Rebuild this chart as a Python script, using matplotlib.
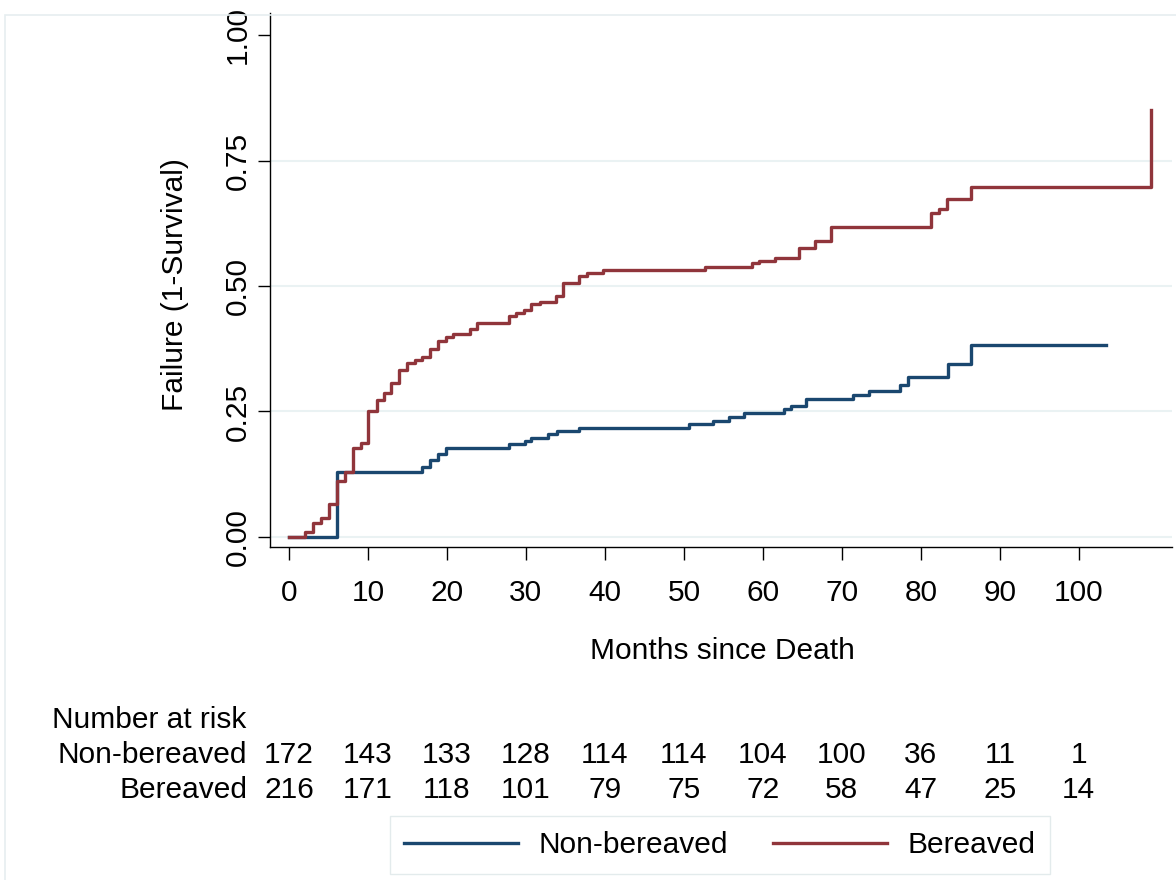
import matplotlib
matplotlib.use("Agg")
import matplotlib.pyplot as plt
import matplotlib.transforms as mtransforms
from matplotlib.lines import Line2D
from matplotlib.patches import Rectangle

# Kaplan-Meier failure curves (months since death, cumulative failure)
bereaved_t = [0, 2.0, 3.1, 4.1, 5.1, 6.1, 7.1, 8.1, 9.1, 10.0, 11.1, 12.0, 12.9, 13.9,
              15.0, 15.9, 16.9, 17.9, 18.9, 19.9, 20.8, 22.9, 23.8, 27.8, 28.7, 29.8,
              30.7, 31.8, 33.8, 34.7, 36.7, 37.7, 39.8, 52.7, 58.6, 59.5, 61.5, 64.6,
              66.6, 68.6, 81.3, 82.3, 83.3, 86.4, 109.2]
bereaved_f = [0, 0.010, 0.028, 0.037, 0.066, 0.112, 0.129, 0.177, 0.187, 0.250, 0.273,
              0.287, 0.307, 0.333, 0.347, 0.353, 0.358, 0.374, 0.391, 0.399, 0.404,
              0.414, 0.426, 0.441, 0.446, 0.452, 0.464, 0.469, 0.481, 0.507, 0.519,
              0.526, 0.532, 0.537, 0.545, 0.550, 0.556, 0.576, 0.590, 0.617, 0.645,
              0.653, 0.673, 0.697, 0.851]

nonbereaved_t = [0, 6.1, 16.9, 17.9, 18.9, 19.9, 27.8, 29.9, 30.7, 32.8, 33.9, 36.7,
                 50.7, 53.7, 55.7, 57.6, 62.7, 63.5, 65.5, 71.4, 73.4, 77.4, 78.4,
                 83.4, 86.4, 103.5]
nonbereaved_f = [0, 0.129, 0.140, 0.153, 0.165, 0.178, 0.185, 0.191, 0.198, 0.205,
                 0.211, 0.217, 0.225, 0.232, 0.239, 0.247, 0.254, 0.261, 0.274, 0.282,
                 0.290, 0.303, 0.318, 0.345, 0.382, 0.382]

# Number at risk table
risk_times = [0, 10, 20, 30, 40, 50, 60, 70, 80, 90, 100]
risk_nonbereaved = [172, 143, 133, 128, 114, 114, 104, 100, 36, 11, 1]
risk_bereaved = [216, 171, 118, 101, 79, 75, 72, 58, 47, 25, 14]

x_ticks = [0, 10, 20, 30, 40, 50, 60, 70, 80, 90, 100]
y_ticks = [0.0, 0.25, 0.50, 0.75, 1.00]
y_ticklabels = ["0.00", "0.25", "0.50", "0.75", "1.00"]

BLUE = "#1a476f"
RED = "#90353b"
GRID = "#eaf2f3"
W, H = 1176, 880
FS = 21.5

plt.rcParams['font.family'] = ['Liberation Sans', 'DejaVu Sans']

fig = plt.figure(figsize=(W / 100, H / 100), dpi=100)

# light outer frame (Stata graph region)
fig.patches.append(Rectangle((5 / W, -0.05), 1.2, 1.05 - 15 / H, transform=fig.transFigure,
                             fill=False, edgecolor="#e6eef0", linewidth=1.2))

ax = fig.add_axes([270 / W, 1 - 547 / H, (1172 - 270) / W, (547 - 13) / H])
ax.set_xlim(-2.4, 111.8)
ax.set_ylim(-0.02, 1.044)

for y in [0.0, 0.25, 0.50, 0.75]:
    ax.axhline(y, color=GRID, linewidth=1.5, zorder=0)

ax.step(nonbereaved_t, nonbereaved_f, where='post', color=BLUE, linewidth=2.4, zorder=3)
ax.step(bereaved_t, bereaved_f, where='post', color=RED, linewidth=2.4, zorder=4)

for s in ['top', 'right']:
    ax.spines[s].set_visible(False)
for s in ['left', 'bottom']:
    ax.spines[s].set_linewidth(1.0)

ax.set_xticks(x_ticks)
ax.set_xticklabels([str(t) for t in x_ticks])
ax.set_yticks(y_ticks)
ax.set_yticklabels(y_ticklabels)
ax.tick_params(axis='both', direction='out', length=9, width=1.0, labelsize=FS)
ax.tick_params(axis='x', pad=14)
ax.tick_params(axis='y', pad=4)
for lab in ax.get_yticklabels():
    lab.set_rotation(90)
    lab.set_va('center')

fig.text(175 / W, 1 - 285 / H, "Failure (1-Survival)", rotation=90, ha='center',
         va='center', fontsize=FS)
fig.text(722 / W, 1 - 651 / H, "Months since Death", ha='center', va='center', fontsize=FS)

# number at risk table, x in data units, y in figure units
trans = mtransforms.blended_transform_factory(ax.transData, fig.transFigure)
fig.text(52 / W, 1 - 720 / H, "Number at risk", ha='left', va='center', fontsize=FS)
fig.text(247 / W, 1 - 755 / H, "Non-bereaved", ha='right', va='center', fontsize=FS)
fig.text(247 / W, 1 - 790 / H, "Bereaved", ha='right', va='center', fontsize=FS)
for t, a, b in zip(risk_times, risk_nonbereaved, risk_bereaved):
    fig.text(t, 1 - 755 / H, str(a), transform=trans, ha='center', va='center', fontsize=FS)
    fig.text(t, 1 - 790 / H, str(b), transform=trans, ha='center', va='center', fontsize=FS)

handles = [Line2D([], [], color=BLUE, linewidth=2.4), Line2D([], [], color=RED, linewidth=2.4)]
leg = fig.legend(handles, ["Non-bereaved", "Bereaved"], loc='center',
                 bbox_to_anchor=(720 / W, 1 - 845 / H), ncol=2, fontsize=FS,
                 frameon=True, fancybox=False, edgecolor="#dde6e8",
                 handlelength=3.8, handletextpad=0.7, columnspacing=1.5,
                 borderpad=0.5, borderaxespad=0)
leg.get_frame().set_linewidth(1.0)

fig.savefig("out.png", dpi=100)
